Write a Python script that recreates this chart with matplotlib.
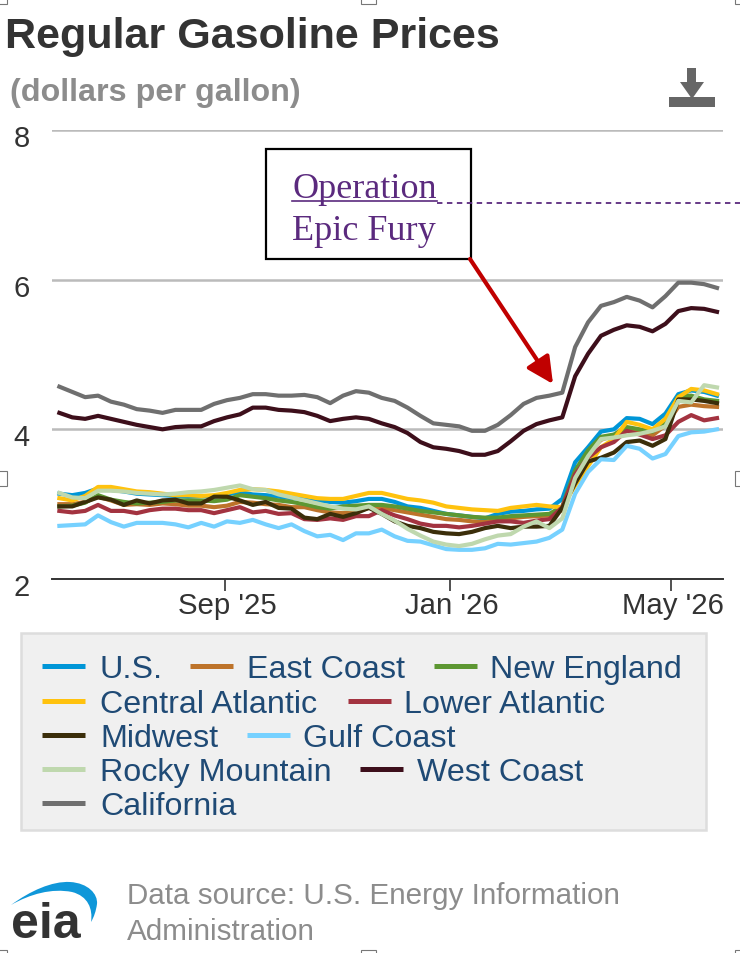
import pandas as pd
import matplotlib
matplotlib.use("Agg")
import matplotlib.pyplot as plt
from matplotlib.lines import Line2D
from matplotlib.patches import Rectangle, Polygon, PathPatch
from matplotlib.path import Path
from matplotlib.transforms import ScaledTranslation

plt.rcParams['font.family'] = ['Liberation Sans', 'DejaVu Sans']

# data, weekly prices in dollars per gallon
start_date = '2025-06-03'

us = [3.14, 3.12, 3.15, 3.21, 3.19, 3.17, 3.14, 3.13, 3.12, 3.11, 3.10, 3.11, 3.10,
      3.13, 3.16, 3.13, 3.12, 3.10, 3.08, 3.07, 3.05, 3.03, 3.02, 3.04, 3.07, 3.07,
      3.03, 2.97, 2.95, 2.91, 2.87, 2.85, 2.83, 2.81, 2.87, 2.90, 2.91, 2.93, 2.94,
      3.07, 3.56, 3.76, 3.97, 4.00, 4.15, 4.14, 4.07, 4.21, 4.47, 4.52, 4.50, 4.45]
east_coast = [3.00, 3.00, 3.03, 3.10, 3.05, 2.99, 3.00, 2.99, 3.01, 3.00, 2.98, 2.98, 2.96,
              2.98, 3.03, 3.02, 3.00, 2.99, 2.96, 2.96, 2.92, 2.89, 2.88, 2.90, 2.95, 2.95,
              2.92, 2.89, 2.86, 2.83, 2.80, 2.79, 2.77, 2.76, 2.80, 2.81, 2.83, 2.84, 2.85,
              2.92, 3.42, 3.68, 3.86, 3.92, 4.02, 3.96, 3.92, 4.05, 4.30, 4.33, 4.31, 4.30]
new_england = [2.97, 2.98, 3.02, 3.12, 3.06, 3.03, 3.01, 3.02, 3.03, 3.05, 3.05, 3.05, 3.04,
               3.06, 3.12, 3.10, 3.08, 3.05, 3.03, 3.00, 2.96, 2.94, 2.97, 2.98, 2.99, 2.99,
               2.97, 2.94, 2.91, 2.89, 2.87, 2.85, 2.83, 2.82, 2.82, 2.84, 2.85, 2.86, 2.87,
               2.97, 3.45, 3.72, 3.90, 3.93, 4.03, 4.00, 3.97, 4.10, 4.44, 4.45, 4.40, 4.38]
central_atlantic = [3.08, 3.05, 3.11, 3.23, 3.23, 3.20, 3.17, 3.16, 3.14, 3.12, 3.12, 3.11, 3.12,
                    3.15, 3.19, 3.20, 3.19, 3.17, 3.14, 3.11, 3.08, 3.07, 3.07, 3.11, 3.15, 3.15,
                    3.11, 3.07, 3.05, 3.02, 2.97, 2.95, 2.93, 2.92, 2.91, 2.95, 2.97, 2.99, 2.97,
                    2.96, 3.25, 3.51, 3.76, 3.87, 4.10, 4.06, 4.00, 4.14, 4.43, 4.54, 4.52, 4.47]
lower_atlantic = [2.91, 2.89, 2.91, 2.99, 2.91, 2.91, 2.88, 2.92, 2.94, 2.94, 2.92, 2.92, 2.88,
                  2.92, 2.96, 2.89, 2.91, 2.87, 2.88, 2.80, 2.79, 2.81, 2.79, 2.84, 2.84, 2.92,
                  2.85, 2.80, 2.74, 2.71, 2.71, 2.69, 2.71, 2.74, 2.77, 2.77, 2.75, 2.78, 2.80,
                  2.96, 3.40, 3.62, 3.76, 3.83, 3.98, 3.93, 3.87, 3.92, 4.10, 4.19, 4.12, 4.15]
midwest = [2.97, 2.97, 3.03, 3.09, 3.06, 2.99, 3.05, 3.01, 3.05, 3.06, 3.01, 3.01, 3.10,
           3.10, 3.05, 2.99, 3.03, 2.95, 2.94, 2.82, 2.80, 2.87, 2.83, 2.88, 2.95, 2.87,
           2.77, 2.71, 2.68, 2.63, 2.61, 2.60, 2.63, 2.68, 2.71, 2.68, 2.70, 2.70, 2.71,
           2.95, 3.28, 3.57, 3.62, 3.69, 3.83, 3.85, 3.78, 3.87, 4.40, 4.40, 4.38, 4.35]
gulf_coast = [2.71, 2.72, 2.73, 2.85, 2.76, 2.70, 2.75, 2.75, 2.75, 2.73, 2.69, 2.75, 2.70,
              2.77, 2.75, 2.79, 2.73, 2.68, 2.73, 2.64, 2.57, 2.59, 2.52, 2.61, 2.61, 2.66,
              2.57, 2.51, 2.50, 2.45, 2.40, 2.39, 2.39, 2.41, 2.47, 2.46, 2.48, 2.50, 2.55,
              2.66, 3.14, 3.43, 3.60, 3.59, 3.78, 3.74, 3.61, 3.67, 3.91, 3.96, 3.97, 4.00]
rocky_mountain = [3.15, 3.09, 3.08, 3.18, 3.18, 3.17, 3.15, 3.14, 3.13, 3.14, 3.16, 3.17, 3.19,
                  3.22, 3.25, 3.20, 3.19, 3.13, 3.09, 3.05, 3.01, 2.97, 2.94, 2.93, 2.97, 2.87,
                  2.78, 2.67, 2.58, 2.50, 2.46, 2.44, 2.47, 2.53, 2.58, 2.60, 2.70, 2.77, 2.68,
                  2.81, 3.35, 3.64, 3.87, 3.89, 3.92, 3.94, 3.98, 4.04, 4.38, 4.36, 4.59, 4.56]
west_coast = [4.22, 4.16, 4.14, 4.18, 4.14, 4.10, 4.06, 4.03, 4.00, 4.03, 4.04, 4.04, 4.11,
              4.16, 4.20, 4.29, 4.29, 4.26, 4.25, 4.23, 4.18, 4.11, 4.14, 4.16, 4.14, 4.08,
              4.03, 3.95, 3.83, 3.76, 3.74, 3.71, 3.66, 3.66, 3.71, 3.84, 3.98, 4.07, 4.12,
              4.16, 4.71, 5.01, 5.25, 5.33, 5.39, 5.37, 5.31, 5.41, 5.58, 5.62, 5.61, 5.57]
california = [4.57, 4.50, 4.43, 4.45, 4.37, 4.33, 4.27, 4.25, 4.22, 4.26, 4.26, 4.26, 4.34,
              4.39, 4.42, 4.47, 4.47, 4.45, 4.45, 4.46, 4.43, 4.35, 4.45, 4.51, 4.49, 4.42,
              4.38, 4.29, 4.18, 4.08, 4.06, 4.04, 3.98, 3.98, 4.06, 4.19, 4.34, 4.42, 4.45,
              4.49, 5.10, 5.43, 5.65, 5.70, 5.77, 5.72, 5.63, 5.78, 5.96, 5.96, 5.94, 5.89]

names = ['U.S.', 'East Coast', 'New England', 'Central Atlantic', 'Lower Atlantic',
         'Midwest', 'Gulf Coast', 'Rocky Mountain', 'West Coast', 'California']
series = [us, east_coast, new_england, central_atlantic, lower_atlantic,
          midwest, gulf_coast, rocky_mountain, west_coast, california]
colors = ['#0096d7', '#bd732a', '#5d9732', '#ffc20e', '#a33340',
          '#3b2e0a', '#76d1ff', '#bfd8ae', '#3d0f1b', '#6f6f6f']

y_ticks = [2, 4, 6, 8]
x_ticks = ['2025-09-01', '2026-01-01', '2026-05-01']
x_tick_labels = ["Sep '25", "Jan '26", "May '26"]

W, H = 740, 954
fig = plt.figure(figsize=(W / 100, H / 100), dpi=100, facecolor='white')

# chart area
ax = fig.add_axes([52 / W, 1 - 580 / H, (723 - 52) / W, (580 - 131) / H])
dates = pd.date_range(start_date, periods=len(us), freq='7D')
for values, color in zip(series, colors):
    ax.plot(dates, values, color=color, lw=3, solid_joinstyle='round', zorder=3)

ax.set_ylim(2, 8)
ax.set_xlim(pd.Timestamp('2025-05-30'), pd.Timestamp('2026-05-29 06:00'))
ax.set_yticks(y_ticks)
ax.set_xticks(pd.to_datetime(x_ticks), x_tick_labels)
ax.grid(axis='y', color='#bbbbbb', lw=1.8, zorder=1)
ax.set_axisbelow(True)
for side in ['top', 'left', 'right']:
    ax.spines[side].set_visible(False)
ax.spines['bottom'].set_color('#333333')
ax.spines['bottom'].set_linewidth(1.4)
ax.tick_params(axis='y', length=0, pad=16, labelsize=21, labelcolor='#333333')
ax.tick_params(axis='x', length=8.5, width=1.2, color='#333333', pad=0, labelsize=21.2, labelcolor='#333333')
for lab in ax.get_yticklabels():
    lab.set_transform(lab.get_transform() + ScaledTranslation(0, -5 / 100, fig.dpi_scale_trans))
for lab in ax.get_xticklabels():
    lab.set_transform(lab.get_transform() + ScaledTranslation(2 / 100, 0, fig.dpi_scale_trans))
ax.patch.set_alpha(0)

# everything else is placed in pixels of the picture
pg = fig.add_axes([0, 0, 1, 1], zorder=5)
pg.set_xlim(0, W)
pg.set_ylim(H, 0)
pg.axis('off')

pg.text(5, 37, 'Regular Gasoline Prices', fontsize=31.1, fontweight='bold', color='#333333', va='center')
pg.text(10, 93, '(dollars per gallon)', fontsize=23.2, fontweight='bold', color='#8c8c8c', va='center')

# download icon
pg.add_patch(Rectangle((669, 98), 46, 10, color='#666666', lw=0))
pg.add_patch(Rectangle((687, 69), 9, 18, color='#666666', lw=0))
pg.add_patch(Polygon([(680, 83), (704, 83), (692, 100)], color='#666666', lw=0))

# annotation box
pg.add_patch(Rectangle((266, 150), 205, 110, fc='white', ec='black', lw=1.6, zorder=2))
purple = '#5b2a7e'
pg.text(292, 189, 'Operation', family='Liberation Serif', fontsize=26, color=purple, va='center', zorder=3)
pg.text(292, 231, 'Epic Fury', family='Liberation Serif', fontsize=26, color=purple, va='center', zorder=3)
pg.plot([292, 437], [202, 202], color=purple, lw=1.2, zorder=3)
pg.plot([437, 740], [204, 204], color=purple, lw=1.3, dashes=(3, 2.5), zorder=3)
pg.annotate('', xy=(553, 385), xytext=(470, 260),
            arrowprops=dict(arrowstyle='-|>,head_length=1.6,head_width=0.8', color='#c00000', lw=3,
                            shrinkA=0, shrinkB=0))

# legend box
pg.add_patch(Rectangle((21, 634), 685, 197, fc='#f0f0f0', ec='#dddddd', lw=1.8))
legend_rows = [
    (667, [('U.S.', 42, 100), ('East Coast', 190, 247), ('New England', 434, 490)]),
    (702, [('Central Atlantic', 42, 100), ('Lower Atlantic', 348, 404)]),
    (736, [('Midwest', 42, 100), ('Gulf Coast', 247, 303)]),
    (770, [('Rocky Mountain', 42, 100), ('West Coast', 360, 417)]),
    (804, [('California', 42, 100)]),
]
for y, row in legend_rows:
    for name, x_line, x_text in row:
        color = colors[names.index(name)]
        pg.add_line(Line2D([x_line, x_line + 43], [y, y], color=color, lw=3.6, solid_capstyle='butt'))
        pg.text(x_text, y + 3, name, fontsize=23.2, color='#1f4a75', va='center')

# eia logo
swoosh = Path([(11, 906), (30, 892), (52, 882), (70, 883), (88, 884), (98, 895), (97, 905),
               (96, 912), (94, 918), (91, 923), (93, 910), (88, 897), (72, 893),
               (52, 889), (30, 895), (11, 906)],
              [Path.MOVETO] + [Path.CURVE4] * 15)
pg.add_patch(PathPatch(swoosh, fc='#0f97d9', ec='none'))
pg.text(11, 938, 'eia', fontsize=36, fontweight='bold', color='#333333', va='baseline')

pg.text(127, 896, 'Data source: U.S. Energy Information', fontsize=21.35, color='#8c8c8c', va='center')
pg.text(127, 932, 'Administration', fontsize=21.35, color='#8c8c8c', va='center')

# selection handles left on the screenshot
for hx, hy in [(-8, 472), (735, 472), (361, 951), (-8, 951), (735, 951),
               (-8, -10), (361, -10), (735, -10)]:
    pg.add_patch(Rectangle((hx, hy), 15, 15, fc='white', ec='#777777', lw=0.8))

fig.savefig('out.png', dpi=100)
